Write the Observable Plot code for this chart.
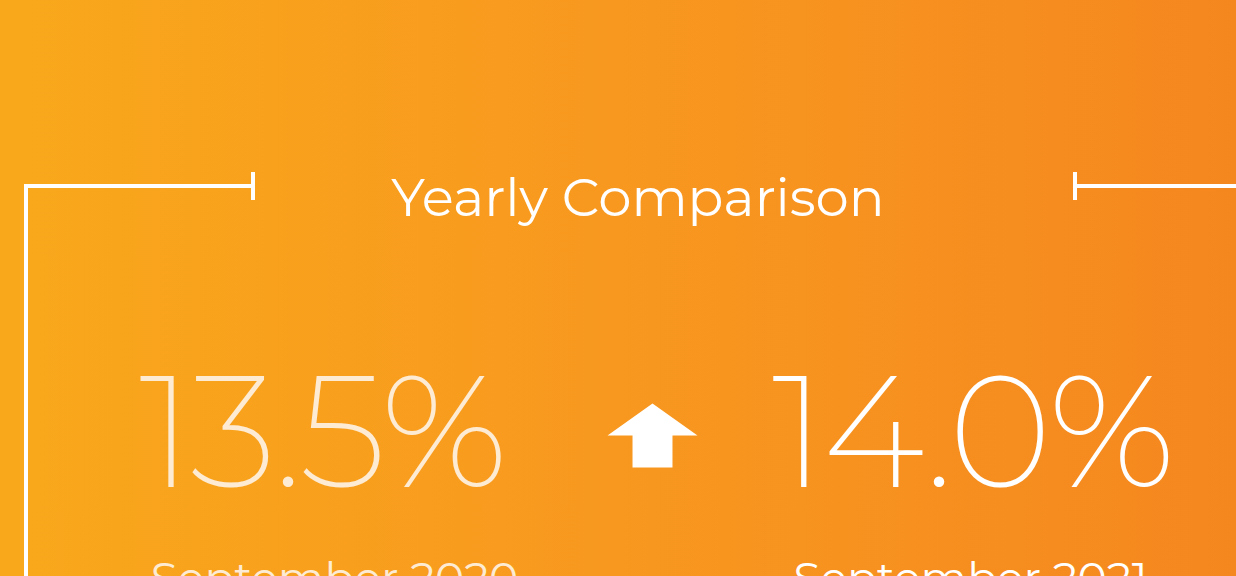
<!DOCTYPE html>
<html>
<head>
<meta charset="utf-8">
<script src="https://cdn.jsdelivr.net/npm/d3@7"></script>
<script src="https://cdn.jsdelivr.net/npm/@observablehq/plot@0.6"></script>
<style>
  html, body { margin: 0; padding: 0; }
  #card {
    position: relative; width: 1236px; height: 576px; overflow: hidden;
    background: linear-gradient(to right, #F9A81B 0%, #F8981F 50%, #F5871F 100%);
    font-family: Montserrat, Inter, "Open Sans", sans-serif;
  }
  #card .ln { position: absolute; background: #fff; }
  #title {
    position: absolute; left: 0; width: 1236px; top: 160px; text-align: center;
    color: #fff; font-size: 53px; font-weight: 400; line-height: 74px; margin: 0;
    padding-left: 40px; box-sizing: border-box;
  }
  #chart { position: absolute; left: 0; top: 0; }
</style>
</head>
<body>
<div id="card">
  <div class="ln" style="left:24px;top:184px;width:4px;height:392px"></div>
  <div class="ln" style="left:24px;top:184px;width:229px;height:4px"></div>
  <div class="ln" style="left:251px;top:172px;width:4px;height:28px"></div>
  <div class="ln" style="left:1073px;top:172px;width:4px;height:28px"></div>
  <div class="ln" style="left:1075px;top:184px;width:161px;height:4px"></div>
  <h2 id="title"></h2>
  <div id="chart"></div>
</div>
<script>
const title = "Yearly Comparison";
const periods = ["September 2020", "September 2021"];
const rates = [13.5, 14.0];

document.getElementById("title").textContent = title;

const rows = periods.map((p, i) => ({period: p, rate: rates[i]}));
const change = [{period: "change", dir: rates[1] >= rates[0] ? 1 : -1}];

// custom arrow symbol (points up); size = π r²
function makeArrow(sign) {
  return {
    draw(ctx, size) {
      const k = 2 * Math.sqrt(size / Math.PI);
      const pts = [[0, -0.356], [0.5, 0], [0.222, 0], [0.222, 0.356], [-0.222, 0.356], [-0.222, 0], [-0.5, 0]];
      pts.forEach(([x, y], j) => j ? ctx.lineTo(x * k, sign * y * k) : ctx.moveTo(x * k, sign * y * k));
      ctx.closePath();
    }
  };
}
const arrowUp = makeArrow(1), arrowDown = makeArrow(-1);

const cream = "#FDEBD3", white = "#FFFFFF";
const numFont = "Montserrat, Inter, sans-serif";

const chart = Plot.plot({
  width: 1236,
  height: 576,
  marginLeft: 320,
  marginRight: 265,
  marginTop: 0,
  marginBottom: 0,
  style: {background: "transparent", overflow: "visible"},
  x: {type: "point", domain: [periods[0], "change", periods[1]], padding: 0, axis: null},
  y: {axis: null},
  marks: [
    Plot.text(rows, {
      x: "period", text: d => d.rate.toFixed(1) + "%",
      frameAnchor: "top", dy: 486, lineAnchor: "bottom",
      fontSize: 158, fontWeight: 200, fontFamily: numFont,
      fill: (d, i) => i === 0 ? cream : white
    }),
    Plot.text(rows, {
      filter: (d, i) => i === 0,
      x: "period", text: "period",
      frameAnchor: "top", dy: 592, lineAnchor: "bottom",
      fontSize: 44, fontWeight: 400, fontFamily: numFont,
      fill: cream, dx: 13
    }),
    Plot.text(rows, {
      filter: (d, i) => i === 1,
      x: "period", text: "period",
      frameAnchor: "top", dy: 592, lineAnchor: "bottom",
      fontSize: 44, fontWeight: 400, fontFamily: numFont,
      fill: white, dx: -1
    }),
    Plot.dot(change, {
      x: "period", frameAnchor: "top", dy: 435, dx: 6,
      symbol: d => d.dir > 0 ? arrowUp : arrowDown, r: 45, fill: white, stroke: null
    })
  ]
});
// tighter tracking on the big figures (first text mark)
d3.select(chart).select('g[aria-label="text"]').selectAll("text").style("letter-spacing", "-4px");
document.getElementById("chart").appendChild(chart);
</script>
</body>
</html>
